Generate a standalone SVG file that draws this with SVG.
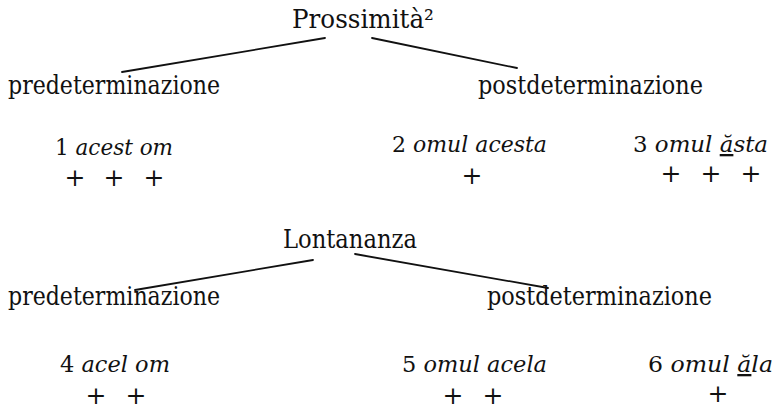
<svg xmlns="http://www.w3.org/2000/svg" width="780" height="409" viewBox="0 0 780 409">
  <style>
    text { font-family: "DejaVu Serif", "Liberation Serif", serif; fill: #111; }
    .head { font-size: 25.5px; }
    .lab { font-size: 23px; }
    .it { font-style: italic; }
    .plus { font-size: 25px; text-anchor: middle; }
    .edge { stroke: #111; stroke-width: 1.8; fill: none; stroke-linecap: round; }
  </style>
  <rect width="780" height="409" fill="#fff"/>

  <!-- connectors -->
  <g id="connectors">
    <line class="edge" x1="325" y1="38" x2="122" y2="72"/>
    <line class="edge" x1="372" y1="38" x2="517" y2="68"/>
    <line class="edge" x1="313" y1="260" x2="135" y2="290"/>
    <line class="edge" x1="355" y1="254" x2="548" y2="288"/>
  </g>

  <!-- upper tree: proximity -->
  <g id="prossimita">
    <text class="head" x="292" y="28" textLength="142" lengthAdjust="spacingAndGlyphs">Prossimità²</text>
  </g>
  <g id="pre1">
    <text class="head" x="8" y="94" textLength="212" lengthAdjust="spacingAndGlyphs">predeterminazione</text>
  </g>
  <g id="post1">
    <text class="head" x="478" y="94" textLength="225" lengthAdjust="spacingAndGlyphs">postdeterminazione</text>
  </g>
  <g id="ex1">
    <text class="lab" x="55" y="155" textLength="118" lengthAdjust="spacingAndGlyphs">1 <tspan class="it">acest om</tspan></text>
    <text class="plus" x="75" y="186">+</text>
    <text class="plus" x="114" y="186">+</text>
    <text class="plus" x="154" y="186">+</text>
  </g>
  <g id="ex2">
    <text class="lab" x="392" y="152" textLength="155" lengthAdjust="spacingAndGlyphs">2 <tspan class="it">omul acesta</tspan></text>
    <text class="plus" x="472" y="184">+</text>
  </g>
  <g id="ex3">
    <text class="lab" x="633" y="152" textLength="135" lengthAdjust="spacingAndGlyphs">3 <tspan class="it">omul <tspan text-decoration="underline">ă</tspan>sta</tspan></text>
    <text class="plus" x="671" y="182">+</text>
    <text class="plus" x="711" y="182">+</text>
    <text class="plus" x="751" y="182">+</text>
  </g>

  <!-- lower tree: distance -->
  <g id="lontananza">
    <text class="head" x="283" y="248" textLength="134" lengthAdjust="spacingAndGlyphs">Lontananza</text>
  </g>
  <g id="pre2">
    <text class="head" x="8" y="305" textLength="212" lengthAdjust="spacingAndGlyphs">predeterminazione</text>
  </g>
  <g id="post2">
    <text class="head" x="487" y="305" textLength="225" lengthAdjust="spacingAndGlyphs">postdeterminazione</text>
  </g>
  <g id="ex4">
    <text class="lab" x="60" y="372" textLength="110" lengthAdjust="spacingAndGlyphs">4 <tspan class="it">acel om</tspan></text>
    <text class="plus" x="96" y="404">+</text>
    <text class="plus" x="136" y="404">+</text>
  </g>
  <g id="ex5">
    <text class="lab" x="402" y="372" textLength="145" lengthAdjust="spacingAndGlyphs">5 <tspan class="it">omul acela</tspan></text>
    <text class="plus" x="453" y="404">+</text>
    <text class="plus" x="493" y="404">+</text>
  </g>
  <g id="ex6">
    <text class="lab" x="648" y="372" textLength="125" lengthAdjust="spacingAndGlyphs">6 <tspan class="it">omul <tspan text-decoration="underline">ă</tspan>la</tspan></text>
    <text class="plus" x="718" y="402">+</text>
  </g>
</svg>
